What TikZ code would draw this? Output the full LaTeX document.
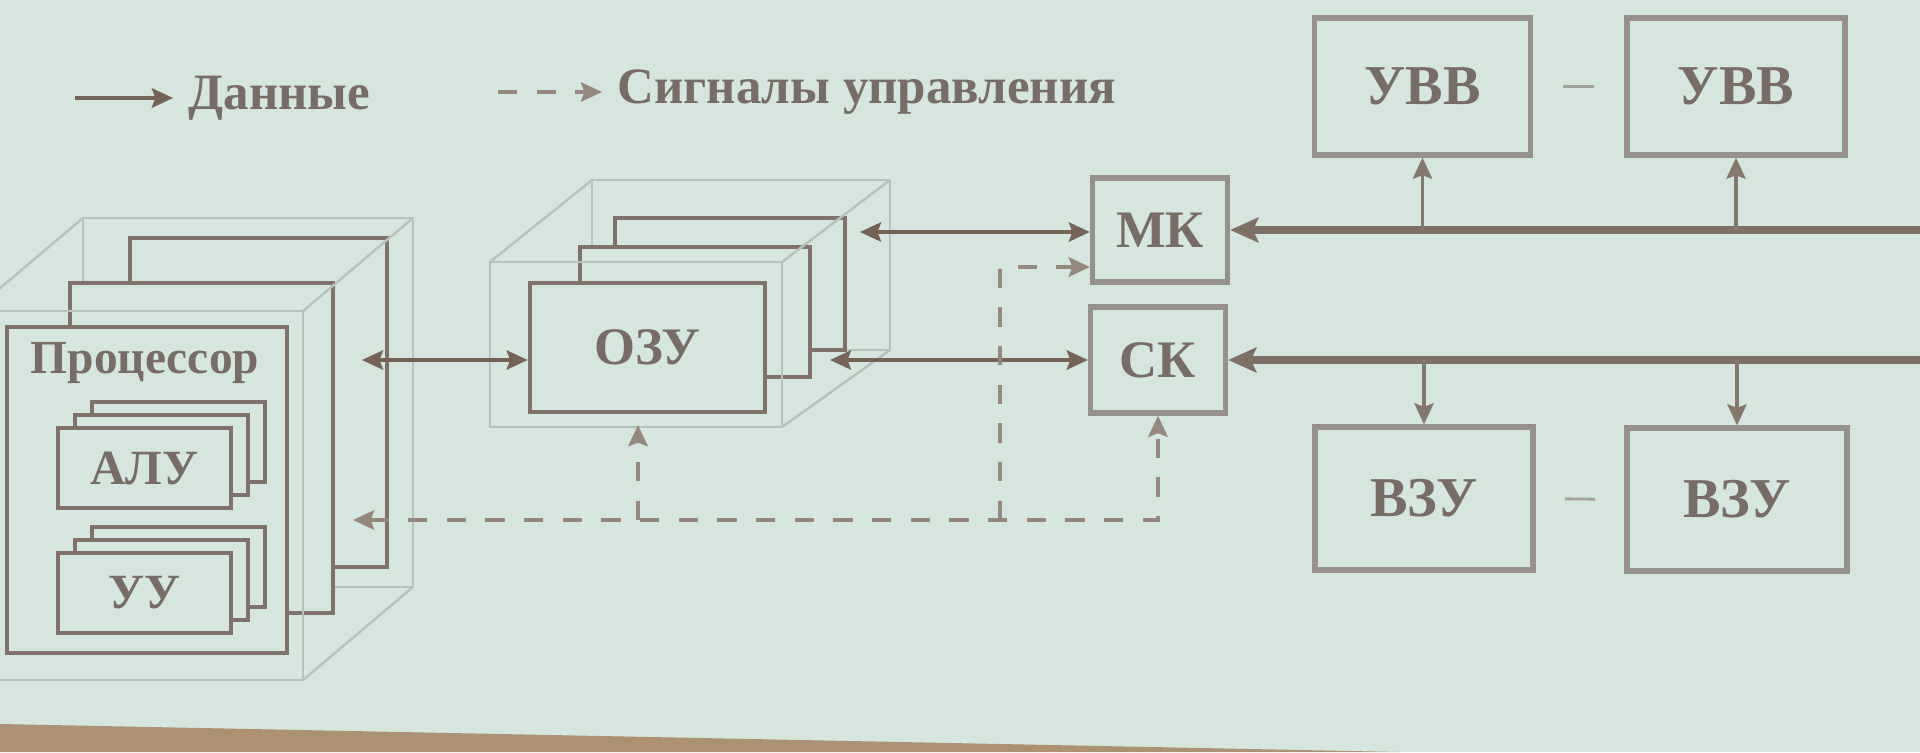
\documentclass[tikz,border=0pt]{standalone}
\usepackage{fontspec}
\setmainfont{Liberation Serif}
\usetikzlibrary{arrows.meta,calc}

\definecolor{bg}{RGB}{212,230,221}
\definecolor{ink}{RGB}{128,114,106}
\definecolor{arr}{RGB}{118,99,88}
\definecolor{boxc}{RGB}{150,145,141}
\definecolor{glass}{RGB}{182,195,189}
\definecolor{txt}{RGB}{120,109,102}
\definecolor{ctl}{RGB}{148,136,127}
\definecolor{floorc}{RGB}{172,146,114}

\begin{document}
\begin{tikzpicture}[x=0.1mm,y=-0.1mm,
  >={Stealth[length=6pt,width=5.5pt,inset=1pt]},
  plate/.style={draw=ink,line width=1.3pt,fill=bg,inner sep=0pt},
  card/.style={draw=ink,line width=1.1pt,fill=bg,inner sep=0pt,minimum width=17.3mm,minimum height=8mm},
  unit/.style={draw=boxc,line width=1.5pt,fill=bg,inner sep=0pt},
  glassln/.style={draw=glass,line width=0.7pt},
  lab/.style={font=\fontsize{15}{18}\selectfont\bfseries,text=txt},
  legend/.style={font=\fontsize{14.5}{17}\selectfont\bfseries,text=txt,inner sep=4.2pt},
  data/.style={<->,draw=arr,line width=0.9pt},
  ctrl/.style={->,draw=ctl,line width=1.1pt,dash pattern=on 5.5pt off 5.5pt},
  bus/.style={-{Stealth[length=8pt,width=7pt,inset=1.5pt]},draw=arr!90!bg,line width=2.3pt},
  drop/.style={->,draw=arr!85!bg,line width=0.9pt},
  gapln/.style={draw=boxc!80!bg,line width=0.8pt}]
  \useasboundingbox (0,0) rectangle (1920,752);
  \fill[bg] (0,0) rectangle (1920,752);
  \fill[floorc] (0,724) -- (1400,752) -- (0,752) -- cycle;

  % legend
  \coordinate (legA) at (75,98);
  \node[legend,anchor=west] (legdata) at (173,98) {Данные};
  \draw[->,draw=arr,line width=1.1pt] (legA) -- (legdata.west);
  \coordinate (legB) at (498,92);
  \node[legend,anchor=west] (legctl) at (602,92) {Сигналы управления};
  \draw[ctrl] (legB) -- (legctl.west);

  % processor: glass box with three boards
  \draw[glassln] (83,218) rectangle (413,587);
  \node[plate,minimum width=25.7mm,minimum height=32.9mm] (procC) at (258.5,402.5) {};
  \node[plate,minimum width=26.3mm,minimum height=33mm] (procB) at (201.5,448) {};
  \node[plate,minimum width=28mm,minimum height=32.6mm] (proc) at (147,490) {};
  \draw[glassln] (-27,311) rectangle (303,680);
  \draw[glassln] (83,218) -- (-27,311) (413,218) -- (303,311) (413,587) -- (303,680);
  \node[lab,font=\fontsize{13.5}{16}\selectfont\bfseries] (proclab) at (145,363) {Процессор};
  \foreach \n/\y/\t in {alu/468/АЛУ,uu/593/УУ} {
    \foreach \i in {2,1} \node[card] (\n\i) at (144.5+17*\i,\y-13*\i) {};
    \node[card,lab,font=\fontsize{14}{17}\selectfont\bfseries] (\n) at (144.5,\y) {\t};
  }

  % main memory: glass box with three boards
  \draw[glassln] (592,180) rectangle (890,350);
  \node[plate,minimum width=23mm,minimum height=13.2mm] (ozuC) at (730,284) {};
  \node[plate,minimum width=23mm,minimum height=13mm] (ozuB) at (695,312) {};
  \node[plate,lab,minimum width=23.5mm,minimum height=12.9mm] (ozu) at (647.5,347.5) {ОЗУ};
  \draw[glassln] (490,262) rectangle (782,427);
  \draw[glassln] (592,180) -- (490,262) (890,180) -- (782,262) (890,350) -- (782,427);
  \coordinate (ozubot) at (638,425);

  % channels
  \node[unit,lab,minimum width=13.5mm,minimum height=10.4mm] (mk) at (1160,230) {МК};
  \node[unit,lab,minimum width=13.5mm,minimum height=10.6mm] (sk) at (1158,360) {СК};

  % peripheral units
  \node[unit,lab,font=\fontsize{16}{19}\selectfont\bfseries,minimum width=21.6mm,minimum height=13.7mm] (uvv1) at (1422.5,86.5) {УВВ};
  \node[unit,lab,font=\fontsize{16}{19}\selectfont\bfseries,minimum width=21.8mm,minimum height=13.7mm] (uvv2) at (1736,86.5) {УВВ};
  \node[unit,lab,font=\fontsize{16}{19}\selectfont\bfseries,minimum width=21.8mm,minimum height=14.3mm] (vzu1) at (1424,498.5) {ВЗУ};
  \node[unit,lab,font=\fontsize{16}{19}\selectfont\bfseries,minimum width=22mm,minimum height=14.3mm] (vzu2) at (1737,499.5) {ВЗУ};
  \draw[gapln] ($(uvv1.east)!0.33!(uvv2.west)$) -- ($(uvv1.east)!0.67!(uvv2.west)$);
  \draw[gapln] ($(vzu1.east)!0.33!(vzu2.west)$) -- ($(vzu1.east)!0.67!(vzu2.west)$);

  % data paths
  \coordinate (procport) at (362,360);
  \draw[data] (procport) -- (procport -| ozu.west);
  \coordinate (ozuport) at (860,232);
  \draw[data] (ozuport) -- (ozuport -| mk.west);
  \coordinate (ozuport2) at (830,360);
  \draw[data] (ozuport2) -- (ozuport2 -| sk.west);

  % buses
  \coordinate (edgeR) at (1920,0);
  \draw[bus] (mk.east -| edgeR) -- (mk.east);
  \draw[bus] (sk.east -| edgeR) -- (sk.east);
  \foreach \u in {uvv1,uvv2} \draw[drop] (\u.south |- mk.east) -- (\u.south);
  \foreach \v in {vzu1,vzu2} \draw[drop] (\v.north |- sk.east) -- (\v.north);

  % control signals
  \coordinate (ctlL) at (353,520);
  \coordinate (ctlM) at (1000,520);
  \coordinate (mkctl) at ($(mk.west)+(0,37)$);
  \draw[ctrl,<->] (ctlL) -- (ctlL -| sk.south) -- (sk.south);
  \draw[ctrl] (ctlL -| ozubot) -- (ozubot);
  \draw[ctrl] (ctlM) |- (mkctl);
\end{tikzpicture}
\end{document}
